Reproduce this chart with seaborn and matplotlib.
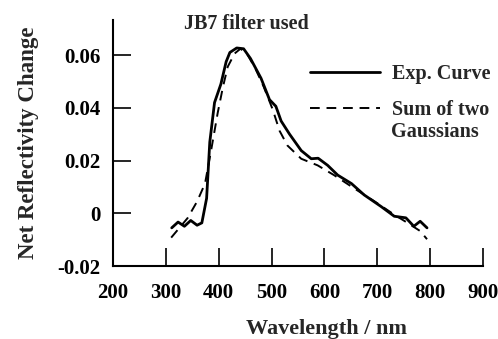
import seaborn as sns
import matplotlib.pyplot as plt
import pandas as pd

# data
exp_wl = [311, 323, 335, 347, 359, 368, 377, 383, 392, 404, 414, 421, 434, 447,
          460, 480, 496, 508, 518, 534, 556, 575, 588, 606, 625, 651, 675, 707,
          732, 754, 769, 781, 794]
exp_val = [-0.0055, -0.0033, -0.0049, -0.0027, -0.0045, -0.0036, 0.0057, 0.027,
           0.042, 0.049, 0.0575, 0.061, 0.0627, 0.0624, 0.0587, 0.0512, 0.0431,
           0.0406, 0.035, 0.030, 0.0238, 0.0207, 0.0209, 0.0182, 0.0145, 0.0113,
           0.0070, 0.0026, -0.0011, -0.0017, -0.0049, -0.003, -0.0055]

fit_wl = [310, 341, 359, 374, 386, 398, 408, 417, 430, 441, 453, 469, 485, 502,
          515, 530, 556, 587, 618, 656, 695, 732, 757, 781, 794]
fit_val = [-0.0092, -0.0018, 0.0045, 0.0113, 0.0244, 0.0381, 0.048, 0.0556,
           0.0606, 0.0624, 0.0606, 0.055, 0.048, 0.0394, 0.0313, 0.0257, 0.0207,
           0.0182, 0.0145, 0.0095, 0.0045, -0.0005, -0.0036, -0.0067, -0.0098]

x_ticks = [200, 300, 400, 500, 600, 700, 800, 900]
y_ticks = [-0.02, 0, 0.02, 0.04, 0.06]
y_tick_labels = ['-0.02', '0', '0.02', '0.04', '0.06']

exp_df = pd.DataFrame({'wl': exp_wl, 'val': exp_val})
fit_df = pd.DataFrame({'wl': fit_wl, 'val': fit_val})

sns.set_style('ticks')
plt.rcParams['font.family'] = ['Liberation Serif', 'DejaVu Serif']
plt.rcParams['font.weight'] = 'bold'

fig = plt.figure(figsize=(4.98, 3.39), dpi=100)
ax = fig.add_axes([0.227, 0.215, 0.743, 0.726])

sns.lineplot(data=exp_df, x='wl', y='val', color='black', linewidth=2,
             label='Exp. Curve', ax=ax)
sns.lineplot(data=fit_df, x='wl', y='val', color='black', linewidth=1.4,
             linestyle=(0, (5, 3.5)), label='Sum of two', ax=ax)

ax.set_xlim(200, 900)
ax.set_ylim(-0.02, 0.0733)
ax.set_xticks(x_ticks)
ax.set_yticks(y_ticks)
ax.set_yticklabels(y_tick_labels)
ax.tick_params(direction='in', length=13, width=1.2, labelsize=15, colors='black')
ax.tick_params(axis='x', pad=12)
ax.tick_params(axis='y', pad=9)
for s in ['top', 'right']:
    ax.spines[s].set_visible(False)
for s in ['left', 'bottom']:
    ax.spines[s].set_linewidth(1.5)
    ax.spines[s].set_color('black')

ax.set_xlabel('Wavelength / nm', fontsize=16, fontweight='bold', labelpad=12,
              x=0.576)
ax.set_ylabel('Net Reflectivity Change', fontsize=16.5, fontweight='bold',
              labelpad=13)
ax.set_title('JB7 filter used', fontsize=14.5, fontweight='bold', x=0.36, y=0.965,
             pad=0)

ax.legend(loc='upper left', bbox_to_anchor=(0.505, 0.863), frameon=False,
          fontsize=14.5, handlelength=3.5, handletextpad=0.55, labelspacing=0.8,
          borderpad=0)
ax.text(0.752, 0.545, 'Gaussians', transform=ax.transAxes, fontsize=14.5,
        fontweight='bold', va='center', ha='left')

plt.savefig('out.png', dpi=100)
